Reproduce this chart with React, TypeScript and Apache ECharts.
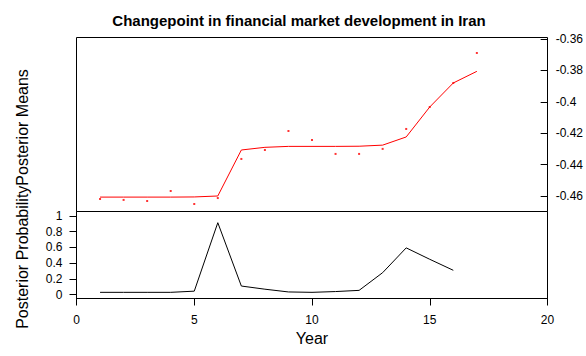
import React, { useEffect, useRef } from "react";
import * as echarts from "echarts";

const years = [1, 2, 3, 4, 5, 6, 7, 8, 9, 10, 11, 12, 13, 14, 15, 16, 17];
const observed = [-0.4619, -0.4625, -0.4632, -0.4568, -0.4651, -0.4613, -0.4364, -0.4307, -0.4186, -0.4243, -0.4332, -0.4332, -0.43, -0.4173, -0.4033, -0.388, -0.3689];
const posteriorMeans = [-0.4607, -0.4607, -0.4607, -0.4607, -0.4606, -0.46, -0.4307, -0.429, -0.4284, -0.4284, -0.4284, -0.4283, -0.4276, -0.4224, -0.4033, -0.388, -0.3806];
const probYears = [1, 2, 3, 4, 5, 6, 7, 8, 9, 10, 11, 12, 13, 14, 15, 16];
const posteriorProb = [0.03, 0.03, 0.03, 0.03, 0.045, 0.915, 0.11, 0.07, 0.035, 0.03, 0.04, 0.055, 0.28, 0.595, 0.45, 0.31];

const titleText = "Changepoint in financial market development in Iran";
const yTitle = "Posterior ProbabilityPosterior Means";
const xTitle = "Year";
const FONT = "Liberation Sans, Arial, sans-serif";

export default function App() {
  const ref = useRef<HTMLDivElement>(null);
  useEffect(() => {
    if (!ref.current) return;
    const chart = echarts.init(ref.current, undefined, { renderer: "svg" });
    const tickStyle = { show: true, length: 7, inside: false, lineStyle: { color: "#000", width: 1 } };
    const labelStyle = { fontSize: 12, color: "#000", fontFamily: FONT };
    chart.setOption({
      animation: false,
      backgroundColor: "#fff",
      grid: [
        { left: 76.5, top: 37.5, width: 471, height: 174, show: true, borderColor: "#000", borderWidth: 1, backgroundColor: "transparent" },
        { left: 76.5, top: 211.5, width: 471, height: 87, show: true, borderColor: "#000", borderWidth: 1, backgroundColor: "transparent" },
        { left: 76.5, top: 39, width: 471, height: 157 },
        { left: 76.5, top: 216, width: 471, height: 78.7 },
      ],
      xAxis: [
        { gridIndex: 0, type: "value", min: 0, max: 20, show: false },
        {
          gridIndex: 1, type: "value", min: 0, max: 20, interval: 5,
          axisLine: { show: true, onZero: false, lineStyle: { color: "#000", width: 1 } },
          axisTick: tickStyle,
          axisLabel: { ...labelStyle, margin: 15 },
          splitLine: { show: false },
        },
        { gridIndex: 2, type: "value", min: 0, max: 20, show: false },
        { gridIndex: 3, type: "value", min: 0, max: 20, show: false },
      ],
      yAxis: [
        { gridIndex: 0, type: "value", min: -0.469873, max: -0.359045, show: false },
        { gridIndex: 1, type: "value", min: -0.0483, max: 1.0572, show: false },
        {
          gridIndex: 2, type: "value", position: "right", min: -0.46, max: -0.36, interval: 0.02,
          axisLine: { show: false, onZero: false }, axisTick: tickStyle,
          axisLabel: { ...labelStyle, margin: 15 }, splitLine: { show: false },
        },
        {
          gridIndex: 3, type: "value", position: "left", min: 0, max: 1, interval: 0.2,
          axisLine: { show: false, onZero: false }, axisTick: tickStyle,
          axisLabel: { ...labelStyle, margin: 14 }, splitLine: { show: false },
        },
      ],
      series: [
        {
          type: "line", xAxisIndex: 0, yAxisIndex: 0, symbol: "none",
          data: years.map((y, i) => [y, posteriorMeans[i]]),
          lineStyle: { color: "#ff0000", width: 1 }, silent: true,
        },
        {
          type: "scatter", xAxisIndex: 0, yAxisIndex: 0, symbol: "rect", symbolSize: 2,
          data: years.map((y, i) => [y, observed[i]]),
          itemStyle: { color: "#ff0000" }, silent: true,
        },
        {
          type: "line", xAxisIndex: 1, yAxisIndex: 1, symbol: "none",
          data: probYears.map((y, i) => [y, posteriorProb[i]]),
          lineStyle: { color: "#000", width: 1 }, silent: true,
        },
      ],
      graphic: [
        {
          type: "text", x: 299, y: 20,
          style: { text: titleText, fontSize: 15, fontWeight: "bold", fontFamily: FONT, fill: "#000", textAlign: "center", textVerticalAlign: "middle" },
        },
        {
          type: "text", x: 312, y: 338,
          style: { text: xTitle, fontSize: 16, fontFamily: FONT, fill: "#000", textAlign: "center", textVerticalAlign: "middle" },
        },
        {
          type: "text", x: 22, y: 199, rotation: Math.PI / 2,
          style: { text: yTitle, fontSize: 16, fontFamily: FONT, fill: "#000", textAlign: "center", textVerticalAlign: "middle" },
        },
      ],
    });
    return () => chart.dispose();
  }, []);
  return <div ref={ref} style={{ position: "fixed", left: 0, top: 0, width: 586, height: 356 }} />;
}
